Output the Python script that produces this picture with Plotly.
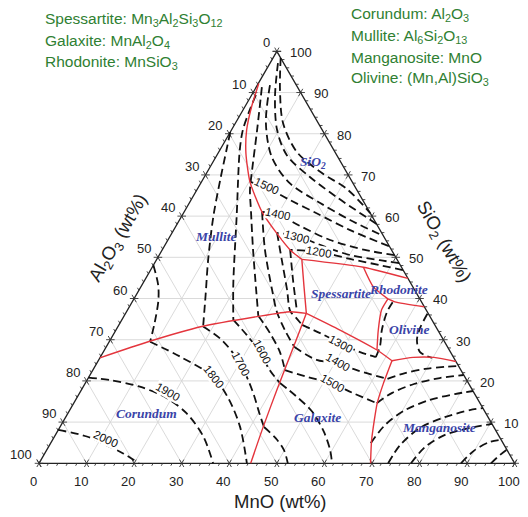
import math
import plotly.graph_objects as go

SQ = math.sqrt(3) / 2

# ---------------- data: compositions as (MnO wt%, SiO2 wt%); Al2O3 = 100 - MnO - SiO2 ----------------
grid_values = [10, 20, 30, 40, 50, 60, 70, 80, 90]
tick_major = [0, 10, 20, 30, 40, 50, 60, 70, 80, 90, 100]
tick_minor = [v for v in range(2, 100, 2) if v % 10 != 0]

# field boundaries (red)
bnd_sio2_mullite = [(0.1, 92.2), (1.4, 86.6), (3.2, 80.9), (5.9, 75.2), (10.2, 68.3), (16.3, 61.1),
                    (22.1, 55.8), (26.9, 51.8), (30.5, 49.5)]
bnd_sio2_spess_rhod = [(30.5, 49.5), (44.4, 47.6), (55.1, 44.9)]
bnd_spess_rhod = [(44.4, 47.6), (48.8, 42.9), (53.4, 39.9)]
bnd_rhod_oliv = [(53.4, 39.9), (55.2, 39.2), (62.0, 38.0)]
bnd_spess_oliv = [(53.4, 39.9), (53.4, 37.2), (55.15, 32.35), (57.3, 27.5)]
bnd_mullite_spess = [(30.5, 49.5), (34.2, 43.0), (38.0, 36.4)]
bnd_mullite_corundum = [(0.0, 25.6), (8.2, 29.5), (17.6, 33.2), (28.0, 35.6), (34.4, 36.8), (38.0, 36.4)]
bnd_corundum_galaxite = [(38.0, 36.4), (38.7, 32.35), (41.1, 17.8), (42.7, 8.9), (44.5, 0.0)]
bnd_spess_galaxite = [(38.0, 36.4), (47.1, 32.35), (57.3, 27.5), (61.75, 24.9)]
bnd_oliv_mangan = [(61.75, 24.9), (65.8, 25.7), (70.2, 25.7), (75.3, 24.7)]
bnd_galaxite_mangan = [(61.75, 24.9), (62.7, 19.4), (63.8, 14.6), (67.1, 5.65), (69.7, 0.0)]

boundaries = [bnd_sio2_mullite, bnd_sio2_spess_rhod, bnd_spess_rhod, bnd_rhod_oliv, bnd_spess_oliv,
              bnd_mullite_spess, bnd_mullite_corundum, bnd_corundum_galaxite, bnd_spess_galaxite,
              bnd_oliv_mangan, bnd_galaxite_mangan]

# isotherms (dashed), each as a list of segments
iso_2000 = [[(0.0, 8.1), (6.8, 6.5), (12.9, 4.0), (16.5, 2.4), (21.0, 0.0)]]
iso_1900 = [[(0.0, 20.8), (4.8, 20.2), (11.9, 18.6), (19.0, 15.8), (25.0, 12.1), (31.3, 6.5), (36.6, 0.0)]]
iso_1800 = [[(0.0, 48.1), (3.4, 43.3), (5.3, 39.6), (7.2, 34.3), (8.6, 29.5)],
            [(8.6, 29.5), (16.7, 25.9), (26.1, 21.0), (31.8, 15.9), (37.8, 8.9), (43.7, 0.0)]]
iso_1700 = [[(0.0, 80.4), (1.4, 76.0), (3.7, 68.8), (6.7, 59.9), (10.9, 49.3), (14.6, 40.85), (17.9, 33.2)],
            [(17.9, 33.2), (23.5, 29.9), (30.1, 24.3), (35.9, 17.8), (40.6, 11.7), (42.9, 8.8)],
            [(42.9, 8.8), (46.7, 6.1), (49.9, 3.2), (52.3, 0.0)]]
iso_1600 = [[(0.9, 89.4), (1.5, 85.3), (2.4, 80.9), (4.2, 76.0), (11.6, 59.9), (19.0, 43.7), (23.45, 34.8)],
            [(23.45, 34.8), (28.15, 31.1), (33.1, 26.8), (37.2, 22.6), (40.9, 19.5)],
            [(40.9, 19.5), (45.9, 16.3), (51.2, 12.5), (56.1, 7.6), (59.6, 3.2), (61.6, 0.0)]]
iso_1500 = [[(47.2, 52.7), (37.1, 56.6), (28.0, 60.7), (20.8, 63.9), (14.0, 67.1), (10.2, 68.3)],
            [(1.2, 91.3), (5.4, 80.9), (9.2, 71.2), (11.2, 66.3), (13.8, 61.5), (19.1, 51.8), (24.6, 42.1), (28.2, 35.8)],
            [(28.2, 35.8), (32.75, 31.6), (37.15, 27.0), (40.4, 22.6)],
            [(40.4, 22.6), (45.8, 21.0), (51.8, 19.4), (57.6, 17.0), (63.7, 14.6)],
            [(63.7, 14.6), (65.7, 17.1), (69.2, 19.25), (73.9, 20.7), (78.55, 21.43)]]
iso_1400 = [[(49.45, 50.55), (42.6, 51.8), (34.1, 54.2), (26.1, 57.6), (19.8, 60.5), (16.4, 61.0)],
            [(16.4, 61.0), (21.6, 51.8), (27.95, 42.1), (31.6, 36.8), (35.5, 32.35), (39.6, 28.2)],
            [(39.6, 28.2), (45.8, 25.1), (50.4, 24.3), (55.5, 22.6), (63.0, 20.5)],
            [(63.0, 20.5), (66.0, 21.9), (69.7, 22.9), (73.65, 23.4), (76.4, 23.6)]]
iso_1300 = [[(51.4, 48.6), (47.0, 49.3), (40.1, 50.55), (32.6, 53.0), (26.65, 55.2), (22.1, 55.9)],
            [(22.1, 55.9), (26.4, 49.3), (31.1, 42.1), (34.3, 37.0), (36.4, 35.3), (38.5, 33.6)],
            [(38.5, 33.6), (43.3, 31.6), (48.7, 29.2), (54.0, 27.0), (57.9, 25.8)],
            [(57.9, 25.8), (57.45, 28.5), (55.9, 32.35), (54.8, 36.7), (54.8, 39.2)]]
iso_1200 = [[(53.05, 46.9), (47.6, 48.1), (40.6, 49.6), (33.4, 51.3), (26.9, 51.8)],
            [(26.9, 51.8), (31.15, 44.5), (35.9, 36.7)]]
iso_sio2_a = [[(1.6, 98.4), (5.36, 90.6), (10.0, 82.6), (16.45, 75.55), (24.26, 70.46), (31.45, 66.57), (39.25, 60.75)]]
iso_sio2_b = [[(1.66, 97.15), (5.16, 88.9), (9.6, 80.9), (14.7, 74.8), (22.2, 69.5), (30.3, 64.6), (41.9, 58.1)]]
iso_sio2_c = [[(2.65, 91.8), (6.4, 82.6), (11.8, 74.3), (18.7, 68.0), (27.5, 63.2), (35.85, 59.05), (44.8, 55.2)]]
iso_olivine = [[(63.5, 36.3), (63.7, 32.8), (64.5, 29.9), (66.6, 27.0), (69.8, 25.6)]]
iso_mn_a = [[(67.3, 4.9), (68.1, 9.3), (70.5, 12.9), (74.5, 15.4), (79.0, 16.8), (82.45, 17.55)]]
iso_mn_b = [[(73.4, 0.0), (73.7, 4.4), (75.8, 8.6), (79.7, 11.2), (84.1, 12.9), (86.6, 13.4)]]
iso_mn_c = [[(78.2, 0.0), (79.2, 4.0), (81.9, 6.9), (86.3, 8.6), (90.45, 9.55)]]
iso_mn_d = [[(88.7, 0.0), (90.0, 3.2), (92.2, 5.2), (94.3, 5.7)]]
iso_mn_e = [[(95.0, 0.0), (95.9, 2.0), (96.7, 3.3)]]

isotherms = [iso_2000, iso_1900, iso_1800, iso_1700, iso_1600, iso_1500, iso_1400, iso_1300, iso_1200,
             iso_sio2_a, iso_sio2_b, iso_sio2_c, iso_olivine, iso_mn_a, iso_mn_b, iso_mn_c, iso_mn_d, iso_mn_e]

# temperature labels: (text, MnO, SiO2, angle)
temp_labels = [("1500", 14.15, 67.4, 25), ("1400", 19.9, 60.5, 12), ("1300", 26.8, 54.9, 15),
               ("1200", 33.2, 51.3, 10), ("1300", 49.0, 28.95, 28), ("1400", 50.5, 24.5, 30),
               ("1500", 51.9, 19.6, 30), ("1600", 33.4, 27.0, 62), ("1700", 30.4, 24.1, 62),
               ("1800", 26.3, 21.0, 52), ("1900", 18.5, 17.3, 30), ("2000", 11.1, 5.9, 25)]

# primary phase field names: (text, MnO, SiO2)
phase_labels = [("SiO<sub>2</sub>", 21.0, 73.1), ("Mullite", 9.7, 55.0), ("Spessartite", 42.8, 41.3),
                ("Rhodonite", 54.6, 42.1), ("Olivine", 61.5, 32.6), ("Corundum", 16.5, 12.0),
                ("Galaxite", 53.0, 11.0), ("Manganosite", 79.7, 8.7)]

legend_left = ["Spessartite: Mn<sub>3</sub>Al<sub>2</sub>Si<sub>3</sub>O<sub>12</sub>",
               "Galaxite: MnAl<sub>2</sub>O<sub>4</sub>",
               "Rhodonite: MnSiO<sub>3</sub>"]
legend_right = ["Corundum: Al<sub>2</sub>O<sub>3</sub>",
                "Mullite: Al<sub>6</sub>Si<sub>2</sub>O<sub>13</sub>",
                "Manganosite: MnO",
                "Olivine: (Mn,Al)SiO<sub>3</sub>"]

# ---------------- helpers ----------------
W, H = 528, 517
X_RANGE = [-8.1985, 102.796]
Y_RANGE = [-11.289, 97.393]


def to_xy(mno, sio2):
    return mno + sio2 / 2.0, sio2 * SQ


def xy(pts):
    xs, ys = [], []
    for m, s in pts:
        x, y = to_xy(m, s)
        xs.append(x)
        ys.append(y)
    return xs, ys


def pfx(px):
    return px / W


def pfy(py):
    return 1 - py / H


fig = go.Figure()

# grid
gx, gy = [], []
for v in grid_values:
    for a, b in [((0, v), (100 - v, v)), ((v, 0), (v, 100 - v)), ((100 - v, 0), (0, 100 - v))]:
        xs, ys = xy([a, b])
        gx += xs + [None]
        gy += ys + [None]
fig.add_trace(go.Scatter(x=gx, y=gy, mode='lines', line=dict(color='#d6d6d6', width=0.9), hoverinfo='skip'))

# frame
fx, fy = xy([(0, 0), (100, 0), (0, 100), (0, 0)])
fig.add_trace(go.Scatter(x=fx, y=fy, mode='lines', line=dict(color='#222', width=1.3), hoverinfo='skip'))

# ticks
d_ur = (0.5, SQ)
d_ul = (-0.5, SQ)
d_h = (1.0, 0.0)
L_MAJ, L_MIN = 0.9, 0.6
tx, ty = [], []


def seg(p, d, a, b):
    tx.extend([p[0] + a * d[0], p[0] + b * d[0], None])
    ty.extend([p[1] + a * d[1], p[1] + b * d[1], None])


for v in tick_major:
    pb = to_xy(v, 0)
    seg(pb, d_ur, -L_MAJ, L_MAJ)
    seg(pb, d_ul, -L_MAJ, L_MAJ)
    pl = to_xy(0, 100 - v)
    seg(pl, d_h, -L_MAJ, L_MAJ)
    seg(pl, d_ul, -L_MAJ, L_MAJ)
    pr = to_xy(100 - v, v)
    seg(pr, d_h, -L_MAJ, L_MAJ)
    seg(pr, d_ur, -L_MAJ, L_MAJ)
for v in tick_minor:
    seg(to_xy(v, 0), d_ur, -L_MIN, 0)
    seg(to_xy(0, 100 - v), d_ul, 0, L_MIN)
    seg(to_xy(100 - v, v), d_h, 0, L_MIN)
fig.add_trace(go.Scatter(x=tx, y=ty, mode='lines', line=dict(color='#333', width=0.9), hoverinfo='skip'))

# isotherms
for iso in isotherms:
    for s in iso:
        xs, ys = xy(s)
        fig.add_trace(go.Scatter(x=xs, y=ys, mode='lines', hoverinfo='skip',
                                 line=dict(color='#111', width=1.8, dash='8px,4.5px', shape='spline', smoothing=0.9)))

# boundaries
for b in boundaries:
    xs, ys = xy(b)
    fig.add_trace(go.Scatter(x=xs, y=ys, mode='lines', hoverinfo='skip',
                             line=dict(color='#e4353d', width=1.4, shape='spline', smoothing=0.6)))

ann = []
# tick labels
tick_font = dict(family='Arial, Liberation Sans, sans-serif', size=13, color='#222')
for v in tick_major:
    x, y = to_xy(v, 0)
    ann.append(dict(x=x - 1.26, y=y - 3.93, text=str(v), showarrow=False, xanchor='center', yanchor='middle', font=tick_font))
    x, y = to_xy(0, 100 - v)
    ann.append(dict(x=x - 1.05, y=y + 1.79, text=str(v), showarrow=False, xanchor='right', yanchor='middle', font=tick_font))
    x, y = to_xy(100 - v, v)
    ann.append(dict(x=x + 2.3, y=y - 0.3, text=str(v), showarrow=False, xanchor='left', yanchor='middle', font=tick_font))

# temperature labels
for t, m, s, a in temp_labels:
    x, y = to_xy(m, s)
    ann.append(dict(x=x, y=y, text=t, showarrow=False, textangle=a, bgcolor='white', borderpad=0,
                    xanchor='center', yanchor='middle',
                    font=dict(family='Arial, Liberation Sans, sans-serif', size=11.5, color='#111')))

# phase names
for t, m, s in phase_labels:
    x, y = to_xy(m, s)
    ann.append(dict(x=x, y=y, text='<b><i>' + t + '</i></b>', showarrow=False, xanchor='center', yanchor='middle',
                    font=dict(family='Liberation Serif, Times New Roman, serif', size=13.5, color='#3a44a8')))

# axis titles
title_font = dict(family='Arial, Liberation Sans, sans-serif', size=18.5, color='#222')
ann.append(dict(xref='paper', yref='paper', x=pfx(280), y=pfy(501), text='MnO (wt%)', showarrow=False,
                xanchor='center', yanchor='middle', font=title_font))
ann.append(dict(xref='paper', yref='paper', x=pfx(119), y=pfy(238), text='Al<sub>2</sub>O<sub>3</sub> (wt%)',
                showarrow=False, textangle=-60, xanchor='center', yanchor='middle', font=title_font))
ann.append(dict(xref='paper', yref='paper', x=pfx(443), y=pfy(242), text='SiO<sub>2</sub> (wt%)',
                showarrow=False, textangle=60, xanchor='center', yanchor='middle', font=title_font))

# green formula legend
green_font = dict(family='Arial, Liberation Sans, sans-serif', size=15.5, color='#2f8032')
for i, t in enumerate(legend_left):
    ann.append(dict(xref='paper', yref='paper', x=pfx(43), y=pfy(19 + 22 * i), text=t, showarrow=False,
                    xanchor='left', yanchor='middle', font=green_font))
for i, t in enumerate(legend_right):
    ann.append(dict(xref='paper', yref='paper', x=pfx(349), y=pfy(15 + 21.3 * i), text=t, showarrow=False,
                    xanchor='left', yanchor='middle', font=green_font))

fig.update_layout(
    width=W, height=H, margin=dict(l=0, r=0, t=0, b=0),
    paper_bgcolor='white', plot_bgcolor='white', showlegend=False,
    xaxis=dict(range=X_RANGE, visible=False, fixedrange=True),
    yaxis=dict(range=Y_RANGE, visible=False, fixedrange=True),
    annotations=ann,
)

fig.write_html("out.html")
